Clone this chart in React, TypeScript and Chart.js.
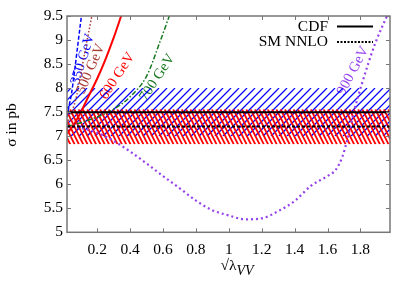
import React, { useEffect, useRef } from 'react';
import { Chart, registerables } from 'chart.js';
Chart.register(...registerables);

const xMin = 0.016;
const xMax = 1.98;
const yMin = 5;
const yMax = 9.5;
const xTickValues = [0.2, 0.4, 0.6, 0.8, 1, 1.2, 1.4, 1.6, 1.8];
const yTickValues = [5, 5.5, 6, 6.5, 7, 7.5, 8, 8.5, 9, 9.5];

const cdfValue = 7.5;
const cdfBand = [7.0, 8.0];
const nnloValue = 7.2;
const nnloBand = [6.83, 7.56];

const m350X = [0.016, 0.03, 0.044, 0.06, 0.08, 0.1, 0.108];
const m350Y = [7.4, 7.65, 7.9, 8.3, 8.85, 9.4, 9.6];
const m500X = [0.016, 0.04, 0.075, 0.1, 0.13, 0.167, 0.175];
const m500Y = [7.25, 7.45, 7.85, 8.3, 8.85, 9.5, 9.65];
const m600X = [0.016, 0.05, 0.1, 0.15, 0.2, 0.25, 0.3, 0.35];
const m600Y = [7.05, 7.2, 7.5, 7.85, 8.2, 8.6, 9.05, 9.55];
const m700X = [0.016, 0.1, 0.2, 0.3, 0.4, 0.5, 0.58, 0.64];
const m700Y = [7.2, 7.28, 7.4, 7.56, 7.82, 8.25, 8.95, 9.52];
const m900X = [0.016, 0.1, 0.2, 0.3, 0.4, 0.5, 0.6, 0.7, 0.8, 0.9, 1.0, 1.1, 1.2, 1.3, 1.4, 1.5, 1.6, 1.65, 1.69, 1.72, 1.76, 1.81, 1.89, 1.96];
const m900Y = [7.2, 7.17, 7.07, 6.9, 6.68, 6.43, 6.17, 5.92, 5.66, 5.46, 5.35, 5.27, 5.29, 5.44, 5.65, 5.97, 6.17, 6.3, 6.57, 6.92, 7.5, 8.1, 8.93, 9.49];

const curveNames = ['350 GeV', '500 GeV', '600 GeV', '700 GeV', '900 GeV'];
const curveColors = ['#0000ff', '#a83a32', '#ff0000', '#16781e', '#9440ee'];
const labelX = [0.112, 0.16, 0.322, 0.565, 1.755];
const labelY = [8.6, 8.4, 8.25, 8.22, 8.36];
const labelAngle = [-73, -67, -57, -57, -62];

const legendNames = ['CDF', 'SM NNLO'];

const SERIF = '"Liberation Serif", "DejaVu Serif", serif';

function pts(xs: number[], ys: number[]) {
  return xs.map((x, i) => ({ x, y: ys[i] }));
}

const overlayPlugin = {
  id: 'overlay',
  beforeDatasetsDraw(chart: any) {
    const { ctx, chartArea: a, scales } = chart;
    const xs = scales.x;
    const ys = scales.y;
    ctx.save();
    ctx.beginPath();
    ctx.rect(a.left, a.top, a.right - a.left, a.bottom - a.top);
    ctx.clip();

    // curve labels (under the hatching, like the original)
    ctx.font = `14.5px ${SERIF}`;
    ctx.textAlign = 'center';
    ctx.textBaseline = 'middle';
    curveNames.forEach((n, i) => {
      ctx.save();
      ctx.translate(xs.getPixelForValue(labelX[i]), ys.getPixelForValue(labelY[i]));
      ctx.rotate((labelAngle[i] * Math.PI) / 180);
      ctx.fillStyle = curveColors[i];
      ctx.fillText(n, 0, 0);
      ctx.restore();
    });

    const bTop = ys.getPixelForValue(cdfBand[1]);
    const bBot = ys.getPixelForValue(cdfBand[0]);
    ctx.save();
    ctx.beginPath();
    ctx.rect(a.left, bTop, a.right - a.left, bBot - bTop);
    ctx.clip();
    ctx.strokeStyle = '#0000ff';
    ctx.lineWidth = 1.3;
    const hB = bBot - bTop;
    for (let x0 = a.left - hB - 20; x0 < a.right + 20; x0 += 8) {
      ctx.beginPath();
      ctx.moveTo(x0, bBot);
      ctx.lineTo(x0 + hB, bTop);
      ctx.stroke();
    }
    ctx.restore();
    const rTop = ys.getPixelForValue(nnloBand[1]);
    const rBot = ys.getPixelForValue(nnloBand[0]);
    ctx.save();
    ctx.beginPath();
    ctx.rect(a.left, rTop, a.right - a.left, rBot - rTop);
    ctx.clip();
    ctx.strokeStyle = '#ff0000';
    ctx.lineWidth = 1.8;
    const hR = rBot - rTop;
    for (let x0 = a.left - 40; x0 < a.right + hR; x0 += 4.3) {
      ctx.beginPath();
      ctx.moveTo(x0, rTop);
      ctx.lineTo(x0 + hR * 0.5, rBot);
      ctx.stroke();
    }
    ctx.restore();
    ctx.restore();
  },
  afterDraw(chart: any) {
    const { ctx, chartArea: a, scales } = chart;
    const xs = scales.x;
    const ys = scales.y;
    ctx.save();
    ctx.strokeStyle = '#777777';
    ctx.lineWidth = 1.5;
    ctx.strokeRect(a.left, a.top, a.right - a.left, a.bottom - a.top);
    ctx.lineWidth = 1;
    ctx.beginPath();
    xTickValues.forEach((v) => {
      const px = Math.round(xs.getPixelForValue(v)) + 0.5;
      ctx.moveTo(px, a.bottom);
      ctx.lineTo(px, a.bottom - 4);
      ctx.moveTo(px, a.top);
      ctx.lineTo(px, a.top + 4);
    });
    yTickValues.forEach((v) => {
      const py = Math.round(ys.getPixelForValue(v)) + 0.5;
      ctx.moveTo(a.left, py);
      ctx.lineTo(a.left + 4, py);
      ctx.moveTo(a.right, py);
      ctx.lineTo(a.right - 4, py);
    });
    ctx.stroke();

    ctx.font = `15.5px ${SERIF}`;
    ctx.fillStyle = '#000';
    ctx.textAlign = 'right';
    ctx.textBaseline = 'middle';
    const legX = 328;
    const rows = [26.5, 42];
    legendNames.forEach((n, i) => {
      ctx.fillText(n, legX, rows[i]);
      ctx.beginPath();
      ctx.strokeStyle = '#000';
      ctx.lineWidth = i === 0 ? 2 : 1.8;
      ctx.setLineDash(i === 0 ? [] : [2, 1.5]);
      ctx.moveTo(legX + 9, rows[i]);
      ctx.lineTo(legX + 45, rows[i]);
      ctx.stroke();
    });
    ctx.setLineDash([]);

    ctx.save();
    ctx.translate(12, 125);
    ctx.rotate(-Math.PI / 2);
    ctx.textAlign = 'center';
    ctx.textBaseline = 'middle';
    ctx.font = `15.5px ${SERIF}`;
    ctx.fillText('σ in pb', 0, 0);
    ctx.restore();

    ctx.textAlign = 'left';
    ctx.textBaseline = 'alphabetic';
    ctx.font = `15.5px ${SERIF}`;
    const main = '√λ';
    const mw = ctx.measureText(main).width;
    ctx.font = `italic 14px ${SERIF}`;
    const sw = ctx.measureText('VV').width;
    const start = 237 - (mw + sw) / 2;
    ctx.font = `15.5px ${SERIF}`;
    ctx.fillText(main, start, 270);
    ctx.font = `italic 14px ${SERIF}`;
    ctx.fillText('VV', start + mw, 275);
    ctx.restore();
  },
};

export default function App() {
  const ref = useRef<HTMLCanvasElement | null>(null);
  useEffect(() => {
    if (!ref.current) return;
    const lineDs = (label: string, data: any[], color: string, width: number, dash: number[]) => ({
      label,
      data,
      borderColor: color,
      backgroundColor: color,
      borderWidth: width,
      borderDash: dash,
      pointRadius: 0,
      showLine: true,
      fill: false,
      tension: 0.4,
      cubicInterpolationMode: 'monotone' as const,
    });
    const chart = new Chart(ref.current, {
      type: 'scatter',
      data: {
        datasets: [
          lineDs('CDF', [{ x: xMin, y: cdfValue }, { x: xMax, y: cdfValue }], '#000000', 2, []),
          lineDs('SM NNLO', [{ x: xMin, y: nnloValue }, { x: xMax, y: nnloValue }], '#000000', 2, [3, 2]),
          lineDs(curveNames[0], pts(m350X, m350Y), curveColors[0], 1.5, [4, 2]),
          lineDs(curveNames[1], pts(m500X, m500Y), curveColors[1], 1.5, [1.5, 2]),
          lineDs(curveNames[2], pts(m600X, m600Y), curveColors[2], 2, []),
          lineDs(curveNames[3], pts(m700X, m700Y), curveColors[3], 1.5, [5, 2, 1.5, 2]),
          lineDs(curveNames[4], pts(m900X, m900Y), curveColors[4], 2.2, [2, 3]),
        ],
      },
      options: {
        responsive: false,
        animation: false,
        events: [],
        layout: { padding: { left: 0, right: 25, top: 16, bottom: 0 } },
        plugins: { legend: { display: false }, tooltip: { enabled: false } },
        scales: {
          x: {
            type: 'linear',
            min: xMin,
            max: xMax,
            grid: { display: false, drawTicks: false },
            border: { display: false },
            afterBuildTicks: (s: any) => {
              s.ticks = xTickValues.map((v) => ({ value: v }));
            },
            afterFit: (s: any) => {
              s.height = 58.7;
            },
            ticks: {
              padding: 8,
              color: '#000',
              font: { family: SERIF, size: 15.5 },
              maxRotation: 0,
              autoSkip: false,
              callback: (v: any) => String(Number(v)),
            },
          },
          y: {
            type: 'linear',
            min: yMin,
            max: yMax,
            grid: { display: false, drawTicks: false },
            border: { display: false },
            afterBuildTicks: (s: any) => {
              s.ticks = yTickValues.map((v) => ({ value: v }));
            },
            afterFit: (s: any) => {
              s.width = 67;
            },
            ticks: {
              padding: 4,
              color: '#000',
              font: { family: SERIF, size: 15.5 },
              autoSkip: false,
              callback: (v: any) => String(Number(v)),
            },
          },
        },
      },
      plugins: [overlayPlugin],
    } as any);
    return () => chart.destroy();
  }, []);
  return (
    <div style={{ position: 'fixed', left: 0, top: 0, width: 415, height: 291, background: '#fff' }}>
      <canvas ref={ref} width={415} height={291} style={{ width: 415, height: 291 }} />
    </div>
  );
}
